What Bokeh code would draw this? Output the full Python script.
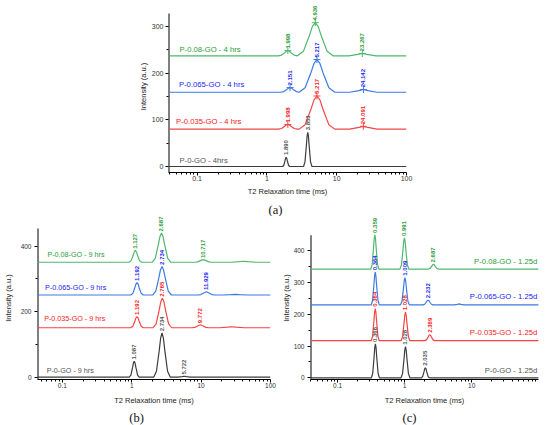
import math
from bokeh.plotting import figure
from bokeh.models import (ColumnDataSource, LabelSet, FixedTicker,
                          NumeralTickFormatter, Spacer)
from bokeh.layouts import column, row
from bokeh.embed import file_html
from bokeh.resources import INLINE
from bokeh.core.properties import field, value

# ---------------- data ----------------
x_major = [0.1, 1, 10, 100]
x_minor = [m * 10.0 ** e for e in (-2, -1, 0, 1) for m in range(2, 10) if 0.039 < m * 10.0 ** e < 100]

series_names = ["P-0-GO", "P-0.035-GO", "P-0.065-GO", "P-0.08-GO"]
x_title = "T2 Relaxation time (ms)"
y_title = "Intensity (a.u.)"
panel_letters = ["(a)", "(b)", "(c)"]

# (a) 4 hrs
a_t2_0 = [0.04, 1.681, 1.748, 1.817, 1.853, 1.890, 1.927, 1.965, 2.044, 2.125,
          3.356, 3.514, 3.680, 3.765, 3.853, 3.943, 4.034, 4.225, 4.424, 100]
a_i_0 = [0, 0, 2.7, 12.1, 17.6, 20, 17.6, 12.1, 2.7, 0,
         0, 9.9, 44.3, 64.4, 73, 64.4, 44.3, 9.9, 0, 0]
a_t2_035 = [0.04, 1.464, 1.624, 1.801, 1.897, 1.998, 2.104, 2.216, 2.458, 2.726,
            2.900, 3.527, 4.290, 4.731, 5.217, 5.753, 6.345, 7.717, 9.385,
            15.38, 20.74, 24.09, 27.98, 37.75, 100]
a_i_035 = [80, 80, 81.4, 86.1, 88.8, 90, 88.8, 86.1, 81.4, 80,
           80, 89.6, 123.1, 142.6, 151, 142.6, 123.1, 89.6, 80,
           80, 83.6, 86, 83.6, 80, 80]
a_t2_065 = [0.04, 1.576, 1.748, 1.939, 2.042, 2.151, 2.265, 2.386, 2.646,
            2.900, 3.527, 4.290, 4.731, 5.217, 5.753, 6.345, 7.717, 9.385,
            15.41, 20.79, 24.14, 28.04, 37.83, 100]
a_i_065 = [159, 159, 160.4, 165.1, 167.8, 169, 167.8, 165.1, 160.4,
           159, 168.5, 201.5, 220.7, 229, 220.7, 201.5, 168.5, 159,
           159, 162.6, 165, 162.6, 159, 159]
a_t2_08 = [0.04, 1.464, 1.624, 1.801, 1.897, 1.998, 2.104, 2.216, 2.458,
           2.744, 3.337, 4.059, 4.476, 4.936, 5.443, 6.003, 7.301, 8.879,
           14.85, 20.03, 23.27, 27.02, 36.45, 100]
a_i_08 = [237, 237, 238.5, 243.7, 246.7, 248, 246.7, 243.7, 238.5,
          237, 246.6, 280.1, 299.6, 308, 299.6, 280.1, 246.6, 237,
          237, 240, 242, 240, 237, 237]
a_pk_t2 = [1.890, 3.853, 1.998, 5.217, 24.091, 2.151, 5.217, 24.142, 1.998, 4.936, 23.267]
a_pk_i = [20, 73, 90, 151, 86, 169, 229, 165, 248, 308, 242]
a_pk_txt = ["1.890", "3.853", "1.998", "5.217", "24.091", "2.151", "5.217", "24.142",
            "1.998", "4.936", "23.267"]
a_pk_series = [0, 0, 1, 1, 1, 2, 2, 2, 3, 3, 3]
a_lbl_txt = ["P-0-GO - 4hrs", "P-0.035-GO - 4 hrs", "P-0.065-GO - 4 hrs", "P-0.08-GO - 4 hrs"]
a_lbl_t2 = [0.056, 0.050, 0.055, 0.056]
a_lbl_i = [4, 87, 166, 241]
a_yticks = [0, 100, 200, 300]
a_yminor = [50, 150, 250]

# (b) 9 hrs
b_t2_0 = [0.04, 0.921, 0.973, 1.029, 1.057, 1.087, 1.117, 1.149, 1.214, 1.283,
          2.074, 2.274, 2.493, 2.611, 2.734, 2.863, 2.998, 3.287, 3.604,
          4.651, 5.340, 5.722, 6.131, 7.040, 100]
b_i_0 = [0, 0, 6.6, 29.7, 43.2, 49, 43.2, 29.7, 6.6, 0,
         0, 18.2, 81.9, 119.1, 135, 119.1, 81.9, 18.2, 0,
         0, 1.8, 3, 1.8, 0, 0]
b_t2_035 = [0.04, 0.969, 1.038, 1.112, 1.152, 1.192, 1.234, 1.277, 1.369, 1.467,
            2.026, 2.247, 2.493, 2.625, 2.765, 2.912, 3.067, 3.402, 3.773,
            7.413, 8.128, 8.912, 9.772, 10.715, 11.749, 12.882,
            18.30, 24.12, 27.7, 31.81, 41.93, 100]
b_i_035 = [151, 151, 155.6, 171.6, 181, 185, 181, 171.6, 155.6, 151,
           151, 163.2, 205.6, 230.4, 241, 230.4, 205.6, 163.2, 151,
           151, 152.2, 156.5, 160, 156.5, 152.2, 151,
           151, 152.8, 154, 152.8, 151, 151]
b_t2_065 = [0.04, 0.969, 1.038, 1.112, 1.152, 1.192, 1.234, 1.277, 1.369, 1.467,
            2.004, 2.222, 2.465, 2.596, 2.734, 2.879, 3.033, 3.364, 3.731,
            9.049, 9.922, 10.879, 11.929, 13.080, 14.342, 15.726,
            20.48, 27.0, 31.0, 35.59, 46.92, 100]
b_i_065 = [251, 251, 256.1, 274.1, 284.5, 289, 284.5, 274.1, 256.1, 251,
           251, 262.7, 303.8, 327.7, 338, 327.7, 303.8, 262.7, 251,
           251, 252.4, 257.1, 261, 257.1, 252.4, 251,
           251, 252.2, 253, 252.2, 251, 251]
b_t2_08 = [0.04, 0.916, 0.982, 1.052, 1.089, 1.127, 1.167, 1.208, 1.294, 1.387,
           1.969, 2.184, 2.422, 2.551, 2.687, 2.830, 2.980, 3.306, 3.667,
           8.129, 8.914, 9.774, 10.717, 11.751, 12.885, 14.128,
           27.09, 35.71, 41.0, 47.08, 62.06, 100]
b_i_08 = [351, 351, 355.9, 372.9, 382.8, 387, 382.8, 372.9, 355.9, 351,
          351, 363, 405, 429.5, 440, 429.5, 405, 363, 351,
          351, 352.1, 355.9, 359, 355.9, 352.1, 351,
          351, 352.8, 354, 352.8, 351, 351]
b_pk_t2 = [1.087, 2.734, 5.722, 1.192, 2.765, 9.772, 1.192, 2.734, 11.929, 1.127, 2.687, 10.717]
b_pk_i = [49, 135, 3, 185, 241, 160, 289, 338, 261, 387, 440, 359]
b_pk_txt = ["1.087", "2.734", "5.722", "1.192", "2.765", "9.772", "1.192", "2.734", "11.929",
            "1.127", "2.687", "10.717"]
b_pk_series = [0, 0, 0, 1, 1, 1, 2, 2, 2, 3, 3, 3]
b_lbl_txt = ["P-0-GO - 9 hrs", "P-0.035-GO - 9 hrs", "P-0.065-GO - 9 hrs", "P-0.08-GO - 9 hrs"]
b_lbl_t2 = [0.0594, 0.0546, 0.0564, 0.0608]
b_lbl_i = [8, 164, 259, 362]
b_yticks = [0, 200, 400]
b_yminor = [100, 300]

# (c) 1.25 d
c_t2_0 = [0.04, 0.3188, 0.3338, 0.3495, 0.3577, 0.366, 0.3745, 0.3832, 0.4013, 0.4202,
          0.8831, 0.9290, 0.9772, 1.0022, 1.028, 1.0544, 1.0815, 1.1376, 1.1967,
          1.7723, 1.8559, 1.9435, 1.9887, 2.035, 2.0824, 2.1308, 2.2314, 2.3366, 100]
c_i_0 = [0, 0, 14.4, 64.9, 94.4, 107, 94.4, 64.9, 14.4, 0,
         0, 13.2, 59.5, 86.4, 98, 86.4, 59.5, 13.2, 0,
         0, 4.3, 19.4, 28.2, 32, 28.2, 19.4, 4.3, 0, 0]
c_t2_035 = [0.04, 0.3170, 0.3320, 0.3476, 0.3557, 0.364, 0.3725, 0.3811, 0.3991, 0.4179,
            0.8831, 0.9290, 0.9772, 1.0022, 1.028, 1.0544, 1.0815, 1.1376, 1.1967,
            1.9933, 2.1114, 2.2364, 2.3018, 2.369, 2.4382, 2.5095, 2.6580, 2.8156, 100]
c_i_035 = [117, 117, 130.6, 178.3, 206.1, 218, 206.1, 178.3, 130.6, 117,
           117, 129.2, 171.6, 196.4, 207, 196.4, 171.6, 129.2, 117,
           117, 119.6, 128.5, 133.8, 136, 133.8, 128.5, 119.6, 117, 117]
c_t2_065 = [0.04, 0.3170, 0.3320, 0.3476, 0.3557, 0.364, 0.3725, 0.3811, 0.3991, 0.4179,
            0.8668, 0.9118, 0.9591, 0.9837, 1.009, 1.0349, 1.0615, 1.1166, 1.1746,
            1.8780, 1.9893, 2.1071, 2.1687, 2.232, 2.2972, 2.3644, 2.5043, 2.6527,
            5.469, 6.136, 6.5, 6.885, 7.725, 100]
c_i_065 = [230, 230, 243.9, 292.5, 320.8, 333, 320.8, 292.5, 243.9, 230,
           230, 241.6, 282.2, 305.9, 316, 305.9, 282.2, 241.6, 230,
           230, 232, 239.1, 243.2, 245, 243.2, 239.1, 232, 230,
           230, 231.8, 233, 231.8, 230, 230]
c_t2_08 = [0.04, 0.3127, 0.3274, 0.3429, 0.3508, 0.359, 0.3674, 0.3759, 0.3936, 0.4122,
           0.8513, 0.8955, 0.9420, 0.9662, 0.991, 1.0165, 1.0425, 1.0966, 1.1536,
           2.2608, 2.3948, 2.5366, 2.6108, 2.687, 2.7655, 2.8463, 3.0148, 3.1935, 100]
c_i_08 = [343, 343, 357.6, 408.6, 438.3, 451, 438.3, 408.6, 357.6, 343,
          343, 356.2, 402.5, 429.4, 441, 429.4, 402.5, 356.2, 343,
          343, 345, 352.1, 356.2, 358, 356.2, 352.1, 345, 343, 343]
c_pk_t2 = [0.366, 1.028, 2.035, 0.364, 1.028, 2.369, 0.364, 1.009, 2.232, 0.359, 0.991, 2.687]
c_pk_i = [107, 98, 32, 218, 207, 136, 333, 316, 245, 451, 441, 358]
c_pk_txt = ["0.366", "1.028", "2.035", "0.364", "1.028", "2.369", "0.364", "1.009", "2.232",
            "0.359", "0.991", "2.687"]
c_pk_series = [0, 0, 0, 1, 1, 1, 2, 2, 2, 3, 3, 3]
c_lbl_txt = ["P-0-GO - 1.25d", "P-0.035-GO - 1.25d", "P-0.065-GO - 1.25d", "P-0.08-GO - 1.25d"]
c_lbl_t2 = [95, 95, 95, 95]
c_lbl_i = [8, 129, 241, 354]
c_yticks = [0, 100, 200, 300, 400]
c_yminor = [50, 150, 250, 350]

# ---------------- style ----------------
LINE_COLORS = ["#3d3d3d", "#f24646", "#3d7be3", "#4fb86c"]
TEXT_COLORS = ["#555555", "#f52020", "#2323f0", "#2a9a3a"]
SANS = "Liberation Sans"
SERIF = "Liberation Serif"


def make_fig(width, height, bl, br, bb, x_rng, y_lo, y_axis_top, y_frame_top, yticks, yminor,
             tick_fs, title_fs, ylab_standoff, ytitle_standoff, xtitle_standoff):
    p = figure(width=width, height=height, x_axis_type="log", x_range=x_rng,
               y_range=(y_lo, y_frame_top),
               output_backend="svg", toolbar_location=None,
               min_border_left=bl, min_border_right=br, min_border_top=0, min_border_bottom=bb)
    p.outline_line_color = None
    p.grid.visible = False
    p.background_fill_color = "white"
    p.border_fill_color = "white"
    p.xaxis.ticker = FixedTicker(ticks=x_major, minor_ticks=x_minor)
    p.xaxis.formatter = NumeralTickFormatter(format="0.[0]")
    p.yaxis.ticker = FixedTicker(ticks=yticks, minor_ticks=yminor)
    p.xaxis.axis_label = x_title
    p.yaxis.axis_label = y_title
    for ax in (p.xaxis[0], p.yaxis[0]):
        ax.major_tick_out = 3
        ax.major_tick_in = 0
        ax.minor_tick_out = 2
        ax.minor_tick_in = 0
        ax.axis_line_color = "black"
        ax.major_tick_line_color = "black"
        ax.minor_tick_line_color = "black"
        ax.major_label_text_font = SANS
        ax.major_label_text_font_size = tick_fs
        ax.major_label_text_color = "#333333"
        ax.axis_label_text_font = SANS
        ax.axis_label_text_font_size = title_fs
        ax.axis_label_text_font_style = "normal"
        ax.axis_label_text_color = "#222222"
    p.yaxis.major_label_standoff = ylab_standoff
    p.yaxis.axis_label_standoff = ytitle_standoff
    p.xaxis.major_label_standoff = 0
    p.xaxis.axis_label_standoff = xtitle_standoff
    # y axis line only up to the axis top (frame extends higher for the peak labels)
    p.yaxis.axis_line_color = None
    p.segment(x0=[x_rng[0]], y0=[y_lo], x1=[x_rng[0]], y1=[y_axis_top],
              line_color="black", line_width=2)
    return p


def draw_panel(p, curves, pk_t2, pk_i, pk_txt, pk_series, pk_off, lbl_t2, lbl_i, lbl_txt,
               lbl_align, lbl_fs, crosses):
    for s, (t2, inten) in enumerate(curves):
        p.line(t2, inten, line_color=LINE_COLORS[s], line_width=1.2)
    pk_src = ColumnDataSource(dict(
        x=pk_t2, y=[v + pk_off for v in pk_i], txt=pk_txt,
        tc=[TEXT_COLORS[s] for s in pk_series]))
    if crosses:
        idx = [i for i, s in enumerate(pk_series) if s > 0]
        cr_src = ColumnDataSource(dict(x=[pk_t2[i] for i in idx], y=[pk_i[i] for i in idx],
                                       lc=[LINE_COLORS[pk_series[i]] for i in idx]))
        p.scatter("x", "y", source=cr_src, marker="cross", size=7, line_color=field("lc"),
                  line_width=1)
    p.add_layout(LabelSet(x="x", y="y", text="txt", source=pk_src, angle=math.pi / 2,
                          text_align="left", text_baseline="middle", text_font=value(SANS),
                          text_font_size=value("6px"), text_font_style=value("bold"),
                          text_color=field("tc")))
    lb_src = ColumnDataSource(dict(x=lbl_t2, y=lbl_i, txt=lbl_txt, tc=TEXT_COLORS))
    p.add_layout(LabelSet(x="x", y="y", text="txt", source=lb_src, text_align=lbl_align,
                          text_baseline="bottom", text_font=value(SANS),
                          text_font_size=value(lbl_fs), text_color=field("tc")))


def letter_strip(width, height, xs, y_mid, letters):
    s = figure(width=width, height=height, x_range=(0, width), y_range=(0, height),
               output_backend="svg", toolbar_location=None, x_axis_location=None,
               y_axis_location=None, min_border=0)
    s.outline_line_color = None
    s.grid.visible = False
    s.border_fill_color = "white"
    s.text(x=xs, y=[y_mid] * len(xs), text=letters, text_align="center",
           text_baseline="middle", text_font=value(SERIF), text_font_size="12.5px",
           text_color="#111111")
    return s


# (a)
pa = make_fig(294, 198, 40, 16, 26, (0.039, 100), -12.85, 327.6, 355.5, a_yticks, a_yminor,
              "7px", "7.5px", 2, 1, 3)
draw_panel(pa, [(a_t2_0, a_i_0), (a_t2_035, a_i_035), (a_t2_065, a_i_065), (a_t2_08, a_i_08)],
           a_pk_t2, a_pk_i, a_pk_txt, a_pk_series, 4.5, a_lbl_t2, a_lbl_i, a_lbl_txt,
           "left", "7.7px", True)
strip_a = letter_strip(550, 18, [275], 7, panel_letters[:1])

# (b)
pb = make_fig(278, 191, 35, 8, 28, (0.0438, 100.2), -7, 454, 490.7, b_yticks, b_yminor,
              "6.5px", "7.5px", 3, 5, 5)
draw_panel(pb, [(b_t2_0, b_i_0), (b_t2_035, b_i_035), (b_t2_065, b_i_065), (b_t2_08, b_i_08)],
           b_pk_t2, b_pk_i, b_pk_txt, b_pk_series, 5, b_lbl_t2, b_lbl_i, b_lbl_txt,
           "left", "7.2px", False)

# (c)
pc = make_fig(272, 191, 27, 12, 26, (0.0394, 99), -5.3, 449.5, 508.7, c_yticks, c_yminor,
              "6.5px", "7.5px", 3, 0, 5)
draw_panel(pc, [(c_t2_0, c_i_0), (c_t2_035, c_i_035), (c_t2_065, c_i_065), (c_t2_08, c_i_08)],
           c_pk_t2, c_pk_i, c_pk_txt, c_pk_series, 6, c_lbl_t2, c_lbl_i, c_lbl_txt,
           "right", "7.7px", False)
strip_bc = letter_strip(550, 18, [136, 409], 7.5, panel_letters[1:])

layout = column(row(Spacer(width=128, height=198), pa), strip_a, row(pb, pc), strip_bc)

open("out.html", "w").write(file_html(layout, INLINE))
